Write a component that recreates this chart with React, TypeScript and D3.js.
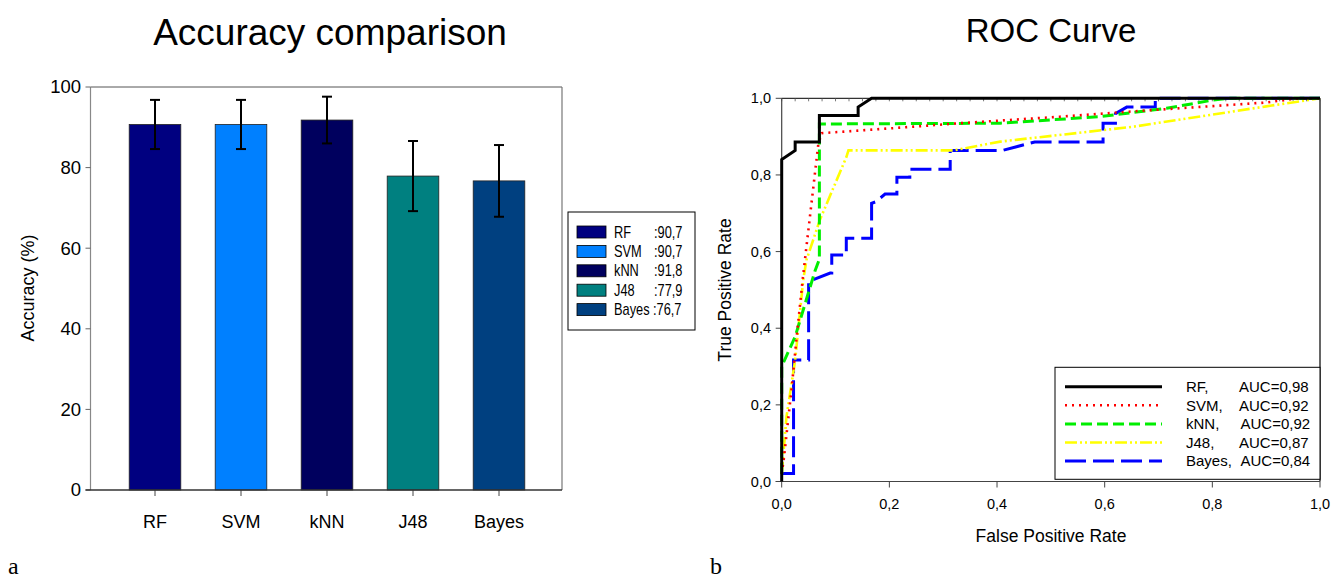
import React from 'react';
import * as d3 from 'd3';

// ---------- Accuracy bar chart data ----------
const categories = ['RF', 'SVM', 'kNN', 'J48', 'Bayes'];
const accuracy = [90.7, 90.7, 91.8, 77.9, 76.7];
const errorHalf = [6.1, 6.1, 5.8, 8.7, 8.9];
const accuracyLabels = [':90,7', ':90,7', ':91,8', ':77,9', ':76,7'];
const barColors = ['#000080', '#0080FF', '#00005E', '#008080', '#004080'];
const accTicks = [0, 20, 40, 60, 80, 100];

// ---------- ROC data (FPR, TPR) ----------
const rocTicks = [0, 0.2, 0.4, 0.6, 0.8, 1.0];
const rocTickLabels = ['0,0', '0,2', '0,4', '0,6', '0,8', '1,0'];
const rocNames = ['RF,', 'SVM,', 'kNN,', 'J48,', 'Bayes,'];
const rocAuc = ['AUC=0,98', 'AUC=0,92', 'AUC=0,92', 'AUC=0,87', 'AUC=0,84'];
const rocColors = ['#000000', '#FF0000', '#00EE00', '#FFFF00', '#0000FF'];
const rocDashes = ['none', '2,5', '11,5', '12,3,2,3,2,3', '21,7'];
const rocWidths = [3, 2.6, 3, 2.6, 3];

const rocRF: [number, number][] = [
  [0, 0], [0, 0.84], [0.025, 0.864], [0.025, 0.886], [0.07, 0.886], [0.07, 0.955],
  [0.142, 0.955], [0.142, 0.977], [0.167, 1], [1, 1],
];
const rocSVM: [number, number][] = [
  [0, 0.02], [0.004, 0.06], [0.019, 0.25], [0.028, 0.38], [0.04, 0.54], [0.068, 0.88],
  [0.074, 0.909], [0.207, 0.922], [0.331, 0.935], [0.517, 0.952], [0.654, 0.966],
  [0.9, 0.989], [0.96, 1], [1, 1],
];
const rocKNN: [number, number][] = [
  [0, 0.02], [0, 0.3], [0.025, 0.378], [0.062, 0.55], [0.07, 0.58], [0.07, 0.933],
  [0.406, 0.935], [0.59, 0.952], [0.715, 0.974], [0.8, 0.995], [0.83, 1], [1, 1],
];
const rocJ48: [number, number][] = [
  [0, 0.02], [0.009, 0.17], [0.025, 0.317], [0.04, 0.526], [0.046, 0.578], [0.071, 0.683],
  [0.12, 0.846], [0.124, 0.864], [0.319, 0.864], [0.406, 0.887], [0.654, 0.926],
  [0.9, 0.979], [1, 1],
];
const rocBayes: [number, number][] = [
  [0, 0.021], [0.022, 0.021], [0.022, 0.317], [0.05, 0.317], [0.05, 0.522], [0.09, 0.544],
  [0.093, 0.544], [0.093, 0.591], [0.12, 0.591], [0.12, 0.635], [0.167, 0.635],
  [0.167, 0.726], [0.175, 0.73], [0.192, 0.75], [0.214, 0.75], [0.214, 0.794],
  [0.238, 0.794], [0.238, 0.815], [0.313, 0.815], [0.313, 0.864], [0.41, 0.864],
  [0.47, 0.886], [0.597, 0.886], [0.597, 0.935], [0.62, 0.935], [0.62, 0.96],
  [0.641, 0.977], [0.694, 0.977], [0.694, 1], [1, 1],
];
const rocData = [rocRF, rocSVM, rocKNN, rocJ48, rocBayes];

const SANS = '"Liberation Sans", Arial, sans-serif';
const SERIF = '"Liberation Serif", "Times New Roman", serif';

export default function App() {
  // left chart scales
  const x = d3.scaleBand<string>().domain(categories).range([112, 542]).paddingInner(0.4).paddingOuter(0.2);
  const y = d3.scaleLinear().domain([0, 100]).range([490, 87]);
  const L0 = 90.5, L1 = 562;

  // right chart scales
  const rx = d3.scaleLinear().domain([0, 1]).range([781.7, 1320]);
  const ry = d3.scaleLinear().domain([0, 1]).range([481.5, 98.3]);
  const line = d3.line<[number, number]>().x(d => rx(d[0])).y(d => ry(d[1]));
  const minorTicks = d3.range(0, 41).map(i => i / 40);

  const legendRowsL = categories.map((c, i) => 232 + i * 19.4);
  const legendRowsR = rocNames.map((c, i) => 386.7 + i * 18.6);

  return (
    <svg width={1335} height={581} style={{ position: 'absolute', left: 0, top: 0, background: '#fff' }}>
      <rect x={0} y={0} width={1335} height={581} fill="#fff" />
      {/* ===== Left chart ===== */}
      <text x={330} y={45} fontFamily={SANS} fontSize={37} textAnchor="middle" fill="#000">Accuracy comparison</text>
      {/* frame */}
      <line x1={L0} x2={L1} y1={y(100)} y2={y(100)} stroke="#555" strokeWidth={1} />
      <line x1={L1} x2={L1} y1={y(100)} y2={y(0)} stroke="#777" strokeWidth={1.2} />
      <line x1={L0} x2={L0} y1={y(100)} y2={y(0)} stroke="#888" strokeWidth={1.2} />
      {accTicks.map(t => (
        <g key={t}>
          <line x1={L0 - 5} x2={L0} y1={y(t)} y2={y(t)} stroke="#666" strokeWidth={1} />
          <text x={81} y={y(t)} dy="0.35em" textAnchor="end" fontFamily={SANS} fontSize={18.5} fill="#000">{t}</text>
        </g>
      ))}
      <text transform={`translate(28,${288}) rotate(-90)`} textAnchor="middle" dominantBaseline="central" fontFamily={SANS} fontSize={18} fill="#000">Accuracy (%)</text>
      {/* bars */}
      {categories.map((c, i) => {
        const bx = x(c)!;
        const cx = bx + x.bandwidth() / 2;
        const top = y(accuracy[i] + errorHalf[i]);
        const bot = y(accuracy[i] - errorHalf[i]);
        return (
          <g key={c}>
            <rect x={bx} y={y(accuracy[i])} width={x.bandwidth()} height={y(0) - y(accuracy[i])} fill={barColors[i]} stroke="#222" strokeWidth={0.8} />
            <line x1={cx} x2={cx} y1={top} y2={bot} stroke="#000" strokeWidth={2} />
            <line x1={cx - 5} x2={cx + 5} y1={top} y2={top} stroke="#000" strokeWidth={2} />
            <line x1={cx - 5} x2={cx + 5} y1={bot} y2={bot} stroke="#000" strokeWidth={2} />
            <line x1={cx} x2={cx} y1={y(0)} y2={y(0) + 6} stroke="#444" strokeWidth={1} />
            <text x={cx} y={528} textAnchor="middle" fontFamily={SANS} fontSize={18} fill="#000">{c}</text>
          </g>
        );
      })}
      <line x1={L0 - 5} x2={L1} y1={y(0)} y2={y(0)} stroke="#333" strokeWidth={1.5} />
      {/* legend */}
      <rect x={568} y={212} width={127} height={118} fill="#fff" stroke="#000" strokeWidth={1} />
      {categories.map((c, i) => (
        <g key={c}>
          <rect x={577} y={legendRowsL[i] - 6} width={29} height={12} fill={barColors[i]} stroke="#000" strokeWidth={0.8} />
          <g transform={`translate(614,${legendRowsL[i]}) scale(0.8,1)`}>
            <text x={0} y={0} dy="0.35em" fontFamily={SANS} fontSize={16} fill="#000">{c}</text>
          </g>
          <g transform={`translate(${c === 'Bayes' ? 653 : 654},${legendRowsL[i]}) scale(0.8,1)`}>
            <text x={0} y={0} dy="0.35em" fontFamily={SANS} fontSize={16} fill="#000">{accuracyLabels[i]}</text>
          </g>
        </g>
      ))}
      <text x={8} y={574} fontFamily={SERIF} fontSize={24} fill="#000">a</text>

      {/* ===== Right chart ===== */}
      <text x={1051} y={42} fontFamily={SANS} fontSize={33} textAnchor="middle" fill="#000">ROC Curve</text>
      {/* frame */}
      <line x1={rx(0)} x2={rx(1)} y1={ry(1)} y2={ry(1)} stroke="#333" strokeWidth={1.2} />
      <line x1={rx(1)} x2={rx(1)} y1={ry(1)} y2={ry(0)} stroke="#333" strokeWidth={1.5} />
      {minorTicks.map(t => (
        <line key={t} x1={rx(t)} x2={rx(t)} y1={ry(1)} y2={ry(1) + 3} stroke="#555" strokeWidth={0.8} />
      ))}
      <line x1={rx(0)} x2={rx(0)} y1={ry(1)} y2={ry(0)} stroke="#444" strokeWidth={1.2} />
      <line x1={rx(0) - 6} x2={rx(1)} y1={ry(0)} y2={ry(0)} stroke="#444" strokeWidth={1.2} />
      {rocTicks.map((t, i) => (
        <g key={t}>
          <line x1={rx(0) - 6} x2={rx(0)} y1={ry(t)} y2={ry(t)} stroke="#444" strokeWidth={1} />
          <text x={771} y={ry(t)} dy="0.35em" textAnchor="end" fontFamily={SANS} fontSize={14.5} fill="#000">{rocTickLabels[i]}</text>
          <line x1={rx(t)} x2={rx(t)} y1={ry(0)} y2={ry(0) + 6} stroke="#444" strokeWidth={1} />
          <text x={rx(t)} y={509} textAnchor="middle" fontFamily={SANS} fontSize={14.5} fill="#000">{rocTickLabels[i]}</text>
        </g>
      ))}
      <text x={1051} y={542} textAnchor="middle" fontFamily={SANS} fontSize={17.5} fill="#000">False Positive Rate</text>
      <text transform={`translate(725,290) rotate(-90)`} textAnchor="middle" dominantBaseline="central" fontFamily={SANS} fontSize={17.5} fill="#000">True Positive Rate</text>
      {[4, 3, 2, 1, 0].map(i => (
        <path key={i} d={line(rocData[i]) || ''} fill="none" stroke={rocColors[i]} strokeWidth={rocWidths[i]}
          strokeDasharray={rocDashes[i]} strokeLinejoin="miter" />
      ))}
      {/* legend */}
      <rect x={1055} y={367.3} width={265} height={112} fill="#fff" stroke="#000" strokeWidth={1} />
      {rocNames.map((n, i) => (
        <g key={n}>
          <line x1={1065} x2={1162} y1={legendRowsR[i]} y2={legendRowsR[i]} stroke={rocColors[i]} strokeWidth={rocWidths[i]} strokeDasharray={rocDashes[i]} />
          <text x={1186} y={legendRowsR[i]} dy="0.35em" fontFamily={SANS} fontSize={15} fill="#000">{n}</text>
          <text x={n === 'kNN,' || n === 'Bayes,' ? 1240.5 : 1239} y={legendRowsR[i]} dy="0.35em" fontFamily={SANS} fontSize={15} fill="#000">{rocAuc[i]}</text>
        </g>
      ))}
      <text x={710} y={574} fontFamily={SERIF} fontSize={24} fill="#000">b</text>
    </svg>
  );
}
